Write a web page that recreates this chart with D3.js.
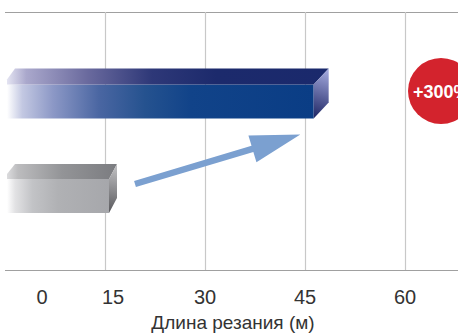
<!DOCTYPE html>
<html>
<head>
<meta charset="utf-8">
<script src="https://cdn.jsdelivr.net/npm/d3@7/dist/d3.min.js"></script>
<style>
  html, body { margin: 0; padding: 0; background: #ffffff; }
  svg { display: block; }
  text { font-family: "Liberation Sans", Arial, sans-serif; }
</style>
</head>
<body>
<svg id="chart" width="458" height="333"></svg>
<script>
// Cutting length, metres
const barKeys = ["new", "standard"];
const barValues = [46.3, 15.6];
const tickValues = [0, 15, 30, 45, 60];
const tickLabels = ["0", "15", "30", "45", "60"];
const axisTitle = "Длина резания (м)";
const gainLabel = "+300%";
const arrowSpan = [19.5, 44.3];

const W = 458, H = 333;
const plotTop = 12, plotBase = 270;
const svg = d3.select("#chart");
const defs = svg.append("defs");

const x = d3.scaleLinear().domain([0, 60]).range([5, 405]);
const y = d3.scalePoint().domain(barKeys).range([101.5, 196]);
const barH = 34;

// frame lines and vertical grid
svg.append("line").attr("x1", x(0)).attr("x2", W).attr("y1", plotTop + 0.5).attr("y2", plotTop + 0.5)
  .attr("stroke", "#a0a0a0").attr("stroke-width", 1);
svg.append("g").selectAll("line").data(tickValues.filter(v => v > 0)).join("line")
  .attr("x1", d => Math.round(x(d)) + 0.5).attr("x2", d => Math.round(x(d)) + 0.5)
  .attr("y1", plotTop).attr("y2", plotBase)
  .attr("stroke", "#c8c8c8").attr("stroke-width", 1.2);
svg.append("line").attr("x1", x(0)).attr("x2", W).attr("y1", plotBase + 0.5).attr("y2", plotBase + 0.5)
  .attr("stroke", "#a0a0a0").attr("stroke-width", 1);

// tick labels (first two sit a little right of their grid position)
const labelShift = [37, 8, 0, 0, 0];
svg.append("g").selectAll("text").data(tickValues).join("text")
  .attr("x", (d, i) => x(d) + labelShift[i])
  .attr("y", 304)
  .attr("text-anchor", "middle")
  .attr("font-size", 20)
  .attr("fill", "#333")
  .text((d, i) => tickLabels[i]);

svg.append("text").attr("x", 233).attr("y", 329).attr("text-anchor", "middle")
  .attr("font-size", 19).attr("fill", "#333").text(axisTitle);

// gradient helper
function grad(id, x1, y1, x2, y2, stops) {
  const g = defs.append("linearGradient").attr("id", id)
    .attr("gradientUnits", "userSpaceOnUse")
    .attr("x1", x1).attr("y1", y1).attr("x2", x2).attr("y2", y2);
  stops.forEach(s => g.append("stop").attr("offset", s[0]).attr("stop-color", s[1]));
  return `url(#${id})`;
}

const palettes = {
  new: {
    depth: [15, 16],
    front: [[0, "#ffffff"], [0.05, "#c3c8e2"], [0.15, "#8c98c6"], [0.3, "#4a66a2"], [0.45, "#25528f"], [0.6, "#114389"], [1, "#0a3d85"]],
    top: [[0, "#e4e4f2"], [0.06, "#aaa8cc"], [0.25, "#6a6a9e"], [0.45, "#2e3878"], [0.65, "#1c2a6c"], [1, "#1a296c"]],
    side: [[0, "#a8aee2"], [1, "#1c2462"]]
  },
  standard: {
    depth: [8, 15],
    front: [[0, "#ffffff"], [0.08, "#e2e2e4"], [0.25, "#c2c3c6"], [0.5, "#b0b1b4"], [1, "#a6a7ab"]],
    top: [[0, "#dcdcde"], [0.1, "#bcbcbe"], [0.5, "#939497"], [1, "#7b7c80"]],
    side: [[0, "#c4c4c6"], [1, "#58585c"]]
  }
};

barKeys.forEach((k, i) => {
  const p = palettes[k];
  const [dx, dy] = p.depth;
  const x0 = x(0) + 2, x1 = x(barValues[i]);
  const yF = y(k) - barH / 2, yB = y(k) + barH / 2;
  const g = svg.append("g");
  // front face
  g.append("rect").attr("x", x0).attr("y", yF).attr("width", x1 - x0).attr("height", barH)
    .attr("fill", grad(`f-${k}`, x0, 0, x1, 0, p.front));
  // top face
  const topPts = [[x0, yF], [x0, yF - 5], [x0 + 8, yF - dy], [x1 + dx, yF - dy], [x1, yF]];
  g.append("path").attr("d", d3.line()(topPts) + "Z")
    .attr("fill", grad(`t-${k}`, x0, 0, x1 + dx, 0, p.top));
  // right face
  const sidePts = [[x1, yF], [x1 + dx, yF - dy], [x1 + dx, yB - dy], [x1, yB]];
  g.append("path").attr("d", d3.line()(sidePts) + "Z")
    .attr("fill", grad(`s-${k}`, x1 + dx, yF - dy, x1, yB, p.side));
});

// arrow from the standard bar toward the new one
(function () {
  const tx = x(arrowSpan[0]), ty = y("standard") - 12;
  const hx = x(arrowSpan[1]), hy = y("new") + barH / 2 + 16;
  const ang = Math.atan2(hy - ty, hx - tx);
  const len = Math.hypot(hx - tx, hy - ty);
  const headL = 50, headW = 14, shaftW = 3.2;
  const pts = [
    [0, -shaftW], [len - headL, -shaftW], [len - headL, -headW],
    [len, 0], [len - headL, headW], [len - headL, shaftW], [0, shaftW]
  ];
  svg.append("path")
    .attr("d", d3.line()(pts) + "Z")
    .attr("transform", `translate(${tx},${ty}) rotate(${ang * 180 / Math.PI})`)
    .attr("fill", "#7ba0d0");
})();

// gain badge, partly beyond the right edge
const cx = x(60) + 36, cy = 91;
svg.append("circle").attr("cx", cx).attr("cy", cy).attr("r", 33).attr("fill", "#d3232d");
svg.append("text").attr("x", cx - 28).attr("y", cy + 6.5).attr("text-anchor", "start")
  .attr("font-size", 18).attr("font-weight", "bold").attr("fill", "#ffffff").text(gainLabel);
</script>
</body>
</html>
